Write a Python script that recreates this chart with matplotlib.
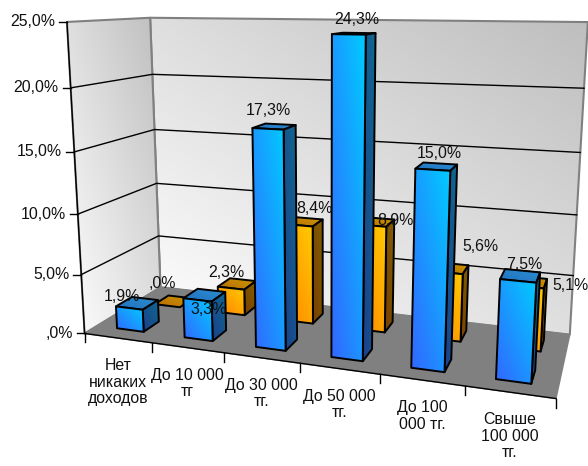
import numpy as np
import matplotlib
matplotlib.use("Agg")
import matplotlib.pyplot as plt
from matplotlib.colors import to_rgb
from matplotlib.patches import Polygon

plt.rcParams["font.family"] = ["Liberation Sans", "DejaVu Sans"]

categories = ["Нет\nникаких\nдоходов", "До 10 000\nтг", "До 30 000\nтг.",
              "До 50 000\nтг.", "До 100\n000 тг.", "Свыше\n100 000\nтг."]
blue_values = [1.9, 3.3, 17.3, 24.3, 15.0, 7.5]
orange_values = [0.0, 2.3, 8.4, 8.9, 5.6, 5.1]
y_ticks = [0, 5, 10, 15, 20, 25]

# nudges of the value labels in pixels, the original chart has them placed by hand
blue_nudge = [(-15, 4), (4, 25), (-6, -5), (3, -3), (3, -2), (4, 0)]
orange_nudge = [(-12, -7), (-11, 0), (11, -2), (20, 10), (30, -11), (41, 14)]


def pct(v):
    s = f"{v:.1f}%".replace(".", ",")
    return s[1:] if s.startswith("0,") else s


# camera: (category, depth, value) -> picture pixels, fitted on the chart box corners
anchors = [
    ((0, 0, 0), (85, 333)), ((0, 0, 10), (78, 214)), ((0, 0, 20), (71, 88)), ((0, 0, 25), (66, 22)),
    ((0, 1, 0), (159.5, 288)), ((0, 1, 10), (157, 183)), ((0, 1, 20), (153, 74)), ((0, 1, 25), (150, 18)),
    ((6, 0, 0), (556, 399)),
    ((6, 1, 0), (570, 334)), ((6, 1, 15), (580, 153)), ((6, 1, 20), (584, 88)), ((6, 1, 25), (588, 22)),
]


def fit_camera(pairs):
    rows = []
    for (x, d, z), (u, v) in pairs:
        rows.append([x, d, z, 1, 0, 0, 0, 0, -u * x, -u * d, -u * z, -u])
        rows.append([0, 0, 0, 0, x, d, z, 1, -v * x, -v * d, -v * z, -v])
    return np.linalg.svd(np.array(rows, float))[2][-1].reshape(3, 4)


camera = fit_camera(anchors)


def proj(x, d, z):
    p = camera @ np.array([x, d, z, 1.0])
    return p[0] / p[2], p[1] / p[2]


def gradient(ax, pts, c0, c1, zorder, edge="black", lw=1.4):
    # diagonal fill, c0 lower left to c1 upper right, clipped to the polygon
    pts = np.array(pts)
    x0, y0 = pts.min(axis=0)
    x1, y1 = pts.max(axis=0)
    u, v = np.meshgrid(np.linspace(0, 1, 60), np.linspace(0, 1, 60))
    t = ((u + v) / 2)[..., None]
    img = np.array(to_rgb(c0)) * (1 - t) + np.array(to_rgb(c1)) * t
    im = ax.imshow(img, extent=(x0, x1 + 0.01, y1 + 0.01, y0), origin="upper", aspect="auto",
                   zorder=zorder, interpolation="bilinear")
    im.set_data(img[::-1])
    clip = Polygon(pts, closed=True, transform=ax.transData, fc="none", ec="none")
    ax.add_patch(clip)
    im.set_clip_path(clip)
    if edge:
        ax.add_patch(Polygon(pts, closed=True, fc="none", ec=edge, lw=lw, joinstyle="round", zorder=zorder))


def bar(ax, cat, d0, d1, value, colors, zorder):
    x0, x1 = cat + 0.3, cat + 0.7
    front = [proj(x0, d0, 0), proj(x1, d0, 0), proj(x1, d0, value), proj(x0, d0, value)]
    side = [proj(x1, d0, 0), proj(x1, d1, 0), proj(x1, d1, value), proj(x1, d0, value)]
    top = [proj(x0, d0, value), proj(x1, d0, value), proj(x1, d1, value), proj(x0, d1, value)]
    gradient(ax, top, colors[4], colors[5], zorder)
    if value > 0:
        gradient(ax, side, colors[2], colors[3], zorder)
        gradient(ax, front, colors[0], colors[1], zorder)


blue = ["#3366ff", "#00ccff", "#1c3f8c", "#0f6a90", "#1f6fc0", "#2e8fd0"]
orange = ["#ff8000", "#ffcc00", "#7a3f00", "#806000", "#b86a00", "#cc9900"]

fig = plt.figure(figsize=(5.88, 4.66), dpi=100)
ax = fig.add_axes([0, 0, 1, 1])
ax.axis("off")

# walls and floor
back = [proj(0, 1, 0), proj(6, 1, 0), proj(6, 1, 25), proj(0, 1, 25)]
left = [proj(0, 0, 0), proj(0, 1, 0), proj(0, 1, 25), proj(0, 0, 25)]
floor = [proj(0, 0, 0), proj(6, 0, 0), proj(6, 1, 0), proj(0, 1, 0)]
gradient(ax, back, "#ffffff", "#bebebe", 1, edge="#808080", lw=1.5)
gradient(ax, left, "#ffffff", "#bebebe", 1, edge="#808080", lw=1.5)
ax.add_patch(Polygon(floor, closed=True, fc="#808080", ec="#808080", zorder=2))

# grid, axis lines and ticks
for t in y_ticks:
    a, b, c = proj(0, 0, t), proj(0, 1, t), proj(6, 1, t)
    if t > 0 and t < 25:
        ax.plot([a[0], b[0], c[0]], [a[1], b[1], c[1]], color="black", lw=1, zorder=3)
    ax.plot([a[0] - 8, a[0]], [a[1], a[1]], color="black", lw=1, zorder=3)
    ax.text(a[0] - 12, a[1], pct(t), ha="right", va="center", fontsize=11.4, color="#111111", zorder=10)

a, b = proj(0, 0, 0), proj(0, 0, 25)
ax.plot([a[0], b[0]], [a[1], b[1]], color="black", lw=1, zorder=3)
a, b = proj(0, 0, 0), proj(6, 0, 0)
ax.plot([a[0], b[0]], [a[1], b[1]], color="black", lw=1, zorder=3)
for i in range(7):
    a = proj(i, 0, 0)
    ax.plot([a[0], a[0]], [a[1], a[1] + 9], color="black", lw=1, zorder=3)

# bars, back row first
for i, v in enumerate(orange_values):
    bar(ax, i, 0.65, 0.85, v, orange, 4 + 0.01 * i)
for i, v in enumerate(blue_values):
    bar(ax, i, 0.15, 0.35, v, blue, 5 + 0.01 * i)

# value labels
for i, v in enumerate(orange_values):
    x, y = proj(i + 0.5, 0.75, v)
    dx, dy = orange_nudge[i]
    ax.text(x + dx, y - 11 + dy, pct(v), ha="center", va="center", fontsize=11.4, color="#111111", zorder=10)
for i, v in enumerate(blue_values):
    x, y = proj(i + 0.5, 0.25, v)
    dx, dy = blue_nudge[i]
    ax.text(x + dx, y - 11 + dy, pct(v), ha="center", va="center", fontsize=11.4, color="#111111", zorder=10)

# category labels
for i, name in enumerate(categories):
    x, y = proj(i + 0.5, 0, 0)
    ax.text(x, y + 20, name, ha="center", va="top", fontsize=11.4, color="#111111",
            linespacing=1.13, zorder=10)

ax.set_xlim(0, 588)
ax.set_ylim(466, 0)
fig.savefig("out.png", dpi=100)
